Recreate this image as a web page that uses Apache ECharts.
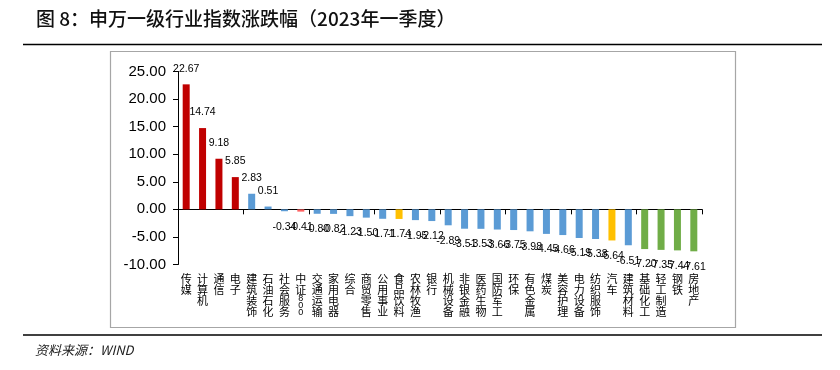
<!DOCTYPE html>
<html>
<head>
<meta charset="utf-8">
<script src="https://cdn.jsdelivr.net/npm/echarts@6/dist/echarts.min.js"></script>
<style>
html,body{margin:0;padding:0;background:#fff;}
#chart{width:840px;height:370px;}
</style>
</head>
<body>
<div id="chart"></div>
<script>
// ---- data ----
var categories = ['传媒','计算机','通信','电子','建筑装饰','石油石化','社会服务','中证800','交通运输','家用电器','综合','商贸零售','公用事业','食品饮料','农林牧渔','银行','机械设备','非银金融','医药生物','国防军工','环保','有色金属','煤炭','美容护理','电力设备','纺织服饰','汽车','建筑材料','基础化工','轻工制造','钢铁','房地产'];
var values = [22.67,14.74,9.18,5.85,2.83,0.51,-0.34,-0.41,-0.80,-0.82,-1.23,-1.50,-1.71,-1.74,-1.95,-2.12,-2.89,-3.51,-3.53,-3.66,-3.75,-3.98,-4.45,-4.66,-5.19,-5.38,-5.64,-6.51,-7.20,-7.35,-7.44,-7.61];
var groups = ['top','top','top','top','mid','mid','mid','index','mid','mid','mid','mid','mid','food','mid','mid','mid','mid','mid','mid','mid','mid','mid','mid','mid','mid','food','mid','bottom','bottom','bottom','bottom'];
var yTicks = {min: -10, max: 25, interval: 5};
var titleText = '图 8：申万一级行业指数涨跌幅（2023年一季度）';
var sourceText = '资料来源：WIND';

// ---- styles ----
var groupColors = {top:'#C00000', mid:'#5B9BD5', index:'#FF6161', food:'#FFC000', bottom:'#70AD47'};

var seriesData = values.map(function(v, i){
  return {
    value: v,
    itemStyle: {color: groupColors[groups[i]]},
    label: {position: v >= 0 ? 'top' : 'bottom'}
  };
});

function verticalLabel(s){
  return s.split('').map(function(c){
    return /[0-9]/.test(c) ? '{d|' + c + '}' : c;
  }).join('\n');
}

var chart = echarts.init(document.getElementById('chart'), null, {renderer:'canvas'});
chart.setOption({
  animation: false,
  backgroundColor: '#fff',
  grid: {left: 178, right: 138, top: 71.5, bottom: 105.5, containLabel: false},
  graphic: [
    {type:'text', left: 36, top: 9, style:{text: titleText, font: '500 19px "Noto Sans CJK SC"', fill:'#111'}},
    {type:'line', shape:{x1:23, y1:44.5, x2:822, y2:44.5}, style:{stroke:'#000', lineWidth:1.5}},
    {type:'rect', shape:{x:110.5, y:51.5, width:625, height:276}, style:{fill:'none', stroke:'#A6A6A6', lineWidth:1.2}},
    {type:'line', shape:{x1:23, y1:335, x2:822, y2:335}, style:{stroke:'#000', lineWidth:1.5}},
    {type:'text', left: 35, top: 344, style:{text: sourceText, font: 'italic 13px "Noto Sans CJK SC"', fill:'#222'}}
  ],
  xAxis: [
    {
      type: 'category', data: categories, position: 'bottom',
      axisLine: {onZero: true, lineStyle:{color:'#000', width:1}},
      axisTick: {show: true, length: 5, inside: false, lineStyle:{color:'#000'}},
      axisLabel: {show: false},
      splitLine: {show: false}
    },
    {
      type: 'category', data: categories, position: 'bottom',
      axisLine: {show: false, onZero: false},
      axisTick: {show: false},
      splitLine: {show: false},
      axisLabel: {
        show: true, interval: 0, margin: 9, color:'#000',
        fontSize: 11, lineHeight: 11, fontFamily: '"Noto Sans CJK SC"',
        verticalAlign: 'top',
        rich: {d: {fontSize: 9, lineHeight: 7, fontFamily: '"Liberation Sans", Arial', color:'#000'}},
        formatter: verticalLabel
      }
    }
  ],
  yAxis: {
    type: 'value', min: yTicks.min, max: yTicks.max, interval: yTicks.interval,
    axisLine: {show: true, lineStyle:{color:'#000', width:1}},
    axisTick: {show: true, length: 5, lineStyle:{color:'#000'}},
    splitLine: {show: false},
    axisLabel: {
      color:'#000', fontSize: 15, fontFamily: '"Liberation Sans", Arial', margin: 12,
      formatter: function(v){ return v.toFixed(2); }
    }
  },
  series: [{
    type: 'bar', xAxisIndex: 0, yAxisIndex: 0,
    barWidth: 7,
    data: seriesData,
    label: {
      show: true, distance: 10, color:'#000', fontSize: 10.5,
      fontFamily: '"Liberation Sans", Arial',
      formatter: function(p){ return p.value.toFixed(2); }
    }
  }]
});
</script>
</body>
</html>
